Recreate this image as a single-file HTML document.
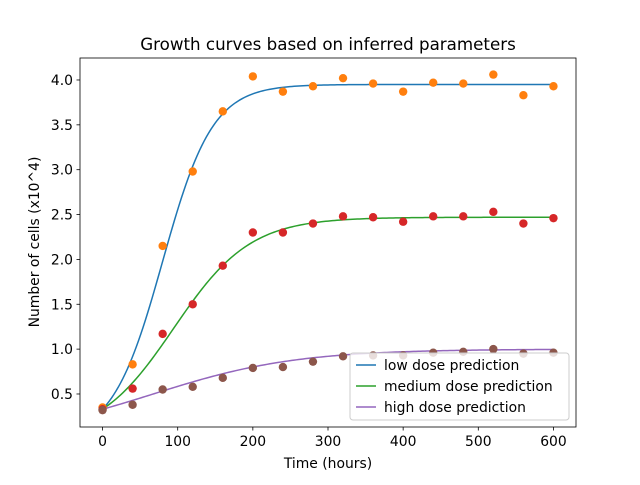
<!DOCTYPE html>
<html><head><meta charset="utf-8"><style>
body{margin:0;background:#fff}
svg{font-family:"DejaVu Sans","Liberation Sans",sans-serif}
</style></head><body>
<svg id="c" width="640" height="480"></svg>
<script>
const times=[0,40,80,120,160,200,240,280,320,360,400,440,480,520,560,600];
const lowObs=[0.35,0.83,2.15,2.98,3.65,4.04,3.87,3.93,4.02,3.96,3.87,3.97,3.96,4.06,3.83,3.93];
const medObs=[0.33,0.56,1.17,1.50,1.93,2.30,2.30,2.40,2.48,2.47,2.42,2.48,2.48,2.53,2.40,2.46];
const highObs=[0.32,0.38,0.55,0.58,0.68,0.79,0.80,0.86,0.92,0.93,0.93,0.96,0.97,1.00,0.95,0.96];
const seriesNames=["low dose prediction","medium dose prediction","high dose prediction"];
const capacity=[3.95,2.47,1.0];
const growthRate=[0.030,0.0197,0.0105];
const initial=[0.33,0.33,0.33];
const xTicks=[0,100,200,300,400,500,600];
const yTicks=[0.5,1.0,1.5,2.0,2.5,3.0,3.5,4.0];

const L=80,R=576,T=58,B=427,xmin=-30,xmax=630,ymin=0.132,ymax=4.245;
const X=v=>L+(v-xmin)/(xmax-xmin)*(R-L);
const Y=v=>B-(v-ymin)/(ymax-ymin)*(B-T);
const svg=document.getElementById('c');const NS='http://www.w3.org/2000/svg';
function mk(t,a,txt){const e=document.createElementNS(NS,t);for(const k in a)e.setAttribute(k,a[k]);if(txt!=null)e.textContent=txt;svg.appendChild(e);return e;}
const lineCols=['#1f77b4','#2ca02c','#9467bd'];
for(let s=0;s<3;s++){let d='';for(let t=0;t<=600;t+=3){const K=capacity[s],n0=initial[s];const v=K/(1+(K-n0)/n0*Math.exp(-growthRate[s]*t));d+=(t?'L':'M')+X(t).toFixed(2)+','+Y(v).toFixed(2);}
const p=mk('path',{d:d,fill:'none',stroke:lineCols[s],'stroke-width':1.5});

}
const obs=[lowObs,medObs,highObs],dotCols=['#ff7f0e','#d62728','#8c564b'];
for(let s=0;s<3;s++)for(let i=0;i<times.length;i++){const c=mk('circle',{cx:X(times[i]),cy:Y(obs[s][i]),r:4.2,fill:dotCols[s]});

}
const fr=mk('rect',{x:L,y:T,width:R-L,height:B-T,fill:'none',stroke:'#000','stroke-width':0.8});

for(const t of xTicks){mk('line',{x1:X(t),x2:X(t),y1:B,y2:B+3.5,stroke:'#000','stroke-width':0.8});
const e=mk('text',{x:X(t),y:B+19,'text-anchor':'middle','font-size':13.9},String(t));
}
for(const t of yTicks){mk('line',{x1:L-3.5,x2:L,y1:Y(t),y2:Y(t),stroke:'#000','stroke-width':0.8});
const e=mk('text',{x:L-7,y:Y(t)+5,'text-anchor':'end','font-size':13.9},t.toFixed(1));
}
let e=mk('text',{x:328,y:468,'text-anchor':'middle','font-size':13.9},'Time (hours)');
e=mk('text',{x:0,y:0,'text-anchor':'middle','font-size':13.9,transform:'translate(39,242) rotate(-90)'},'Number of cells (x10^4)');
e=mk('text',{x:328,y:50,'text-anchor':'middle','font-size':16.7},'Growth curves based on inferred parameters');
const lg=mk('rect',{x:350,y:353,width:219,height:67,rx:3,fill:'#fff','fill-opacity':0.8,stroke:'#ccc'});
for(let s=0;s<3;s++){const y=365+s*21;mk('line',{x1:356,x2:376,y1:y,y2:y,stroke:lineCols[s],'stroke-width':1.5});
const t=mk('text',{x:384,y:y+5,'font-size':13.9},seriesNames[s]);}
</script>
</body></html>
